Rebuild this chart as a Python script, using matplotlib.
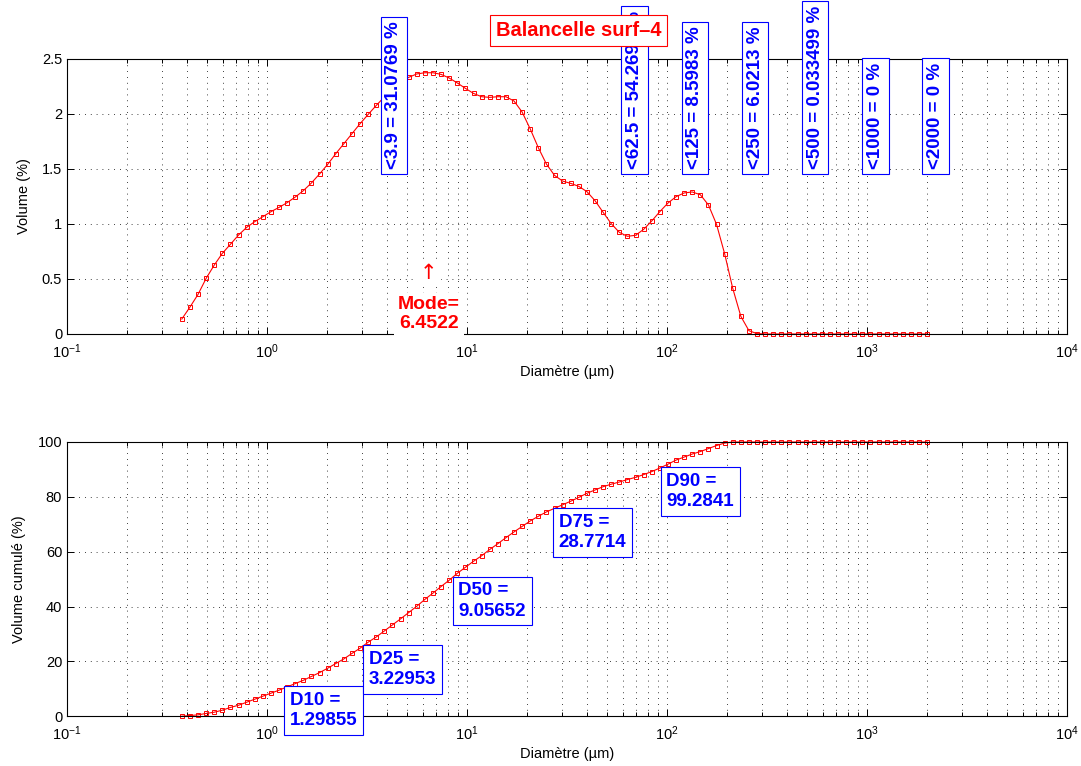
import numpy as np
import matplotlib
matplotlib.use("Agg")
import matplotlib.pyplot as plt

plt.rcParams['font.family'] = ['Liberation Sans', 'DejaVu Sans']
plt.rcParams['mathtext.fontset'] = 'custom'
plt.rcParams['mathtext.rm'] = 'Liberation Sans'

# Classes granulométriques (µm)
diametre = [0.375, 0.412, 0.452, 0.496, 0.545, 0.598, 0.656, 0.721, 0.791, 0.868,
            0.953, 1.047, 1.149, 1.261, 1.385, 1.520, 1.668, 1.832, 2.011, 2.207,
            2.423, 2.660, 2.920, 3.205, 3.519, 3.863, 4.240, 4.655, 5.110, 5.610,
            6.158, 6.760, 7.421, 8.147, 8.943, 9.817, 10.78, 11.83, 12.99, 14.26,
            15.65, 17.18, 18.86, 20.71, 22.73, 24.95, 27.39, 30.07, 33.01, 36.24,
            39.78, 43.67, 47.94, 52.62, 57.77, 63.41, 69.61, 76.42, 83.89, 92.09,
            101.1, 111.0, 121.8, 133.7, 146.8, 161.2, 176.9, 194.2, 213.2, 234.1,
            256.9, 282.1, 309.6, 339.9, 373.1, 409.6, 449.7, 493.6, 541.9, 594.9,
            653.0, 716.9, 786.9, 863.9, 948.3, 1041, 1143, 1255, 1377, 1512,
            1660, 1822, 2000]

# Volume (%) par classe
volume = [0.136, 0.245, 0.36, 0.505, 0.627, 0.733, 0.815, 0.90, 0.969, 1.021,
          1.066, 1.112, 1.151, 1.194, 1.245, 1.303, 1.373, 1.455, 1.542, 1.639,
          1.73, 1.821, 1.912, 1.996, 2.078, 2.155, 2.22, 2.294, 2.333, 2.364,
          2.375, 2.375, 2.36, 2.327, 2.282, 2.233, 2.187, 2.157, 2.151, 2.157,
          2.157, 2.118, 2.018, 1.864, 1.694, 1.545, 1.442, 1.39, 1.369, 1.342,
          1.294, 1.212, 1.106, 1.003, 0.924, 0.888, 0.897, 0.951, 1.027, 1.112,
          1.19, 1.248, 1.282, 1.291, 1.266, 1.173, 0.997, 0.73, 0.415, 0.16,
          0.03, 0.003, 0, 0, 0, 0, 0, 0, 0, 0,
          0, 0, 0, 0, 0, 0, 0, 0, 0, 0,
          0, 0, 0]

# Volume cumulé (%)
cumul = [0, 0.24, 0.5, 1.0, 1.46, 2.2, 3.2, 4.0, 5.1, 6.2,
         7.3, 8.4, 9.5, 10.7, 11.9, 13.1, 14.5, 15.9, 17.5, 19.2,
         20.9, 22.9, 24.8, 27.0, 28.9, 31.1, 33.3, 35.5, 37.8, 40.1,
         42.6, 44.9, 47.3, 49.6, 52.1, 54.3, 56.5, 58.5, 60.8, 62.9,
         65.1, 67.2, 69.2, 71.2, 72.9, 74.5, 75.8, 77.1, 78.4, 79.8,
         81.3, 82.5, 83.7, 84.6, 85.4, 86.3, 87.1, 88.1, 89.2, 90.5,
         91.9, 93.4, 94.5, 95.6, 96.5, 97.6, 98.7, 99.6, 100, 100,
         100, 100, 100, 100, 100, 100, 100, 100, 100, 100,
         100, 100, 100, 100, 100, 100, 100, 100, 100, 100,
         100, 100, 100]

# Pourcentages par seuil
seuils = [3.9, 62.5, 125, 250, 500, 1000, 2000]
seuils_pct = ['31.0769', '54.2691', '8.5983', '6.0213', '0.033499', '0', '0']

# Percentiles
d_noms = ['D10', 'D25', 'D50', 'D75', 'D90']
d_pct = [10, 25, 50, 75, 90]
d_val = [1.29855, 3.22953, 9.05652, 28.7714, 99.2841]

mode = 6.4522
titre = 'Balancelle surf–4'


def style_axes(ax):
    ax.set_xscale('log')
    ax.set_xlim(1e-1, 1e4)
    ax.tick_params(which='both', direction='in', top=True, right=True,
                   labelsize=10.5, width=0.7)
    ax.tick_params(axis='x', which='both', pad=6)
    ax.tick_params(which='major', length=5)
    ax.tick_params(which='minor', length=3)
    ax.grid(True, which='major', axis='both', color='k', lw=0.6, ls=(0, (1, 6)))
    ax.grid(True, which='minor', axis='x', color='k', lw=0.6, ls=(0, (1, 6)))
    for s in ax.spines.values():
        s.set_linewidth(0.8)
    ax.set_xlabel('Diamètre (µm)', fontsize=10.5, labelpad=3)


fig = plt.figure(figsize=(10.81, 7.66), dpi=100)
ax1 = fig.add_axes([0.062, 0.564, 0.925, 0.359])
ax2 = fig.add_axes([0.062, 0.065, 0.925, 0.358])

# --- courbe volume ---
ax1.plot(diametre, volume, '-s', color='r', lw=0.8, markersize=2.3,
         mfc='none', mew=0.7, clip_on=False)
style_axes(ax1)
ax1.set_ylim(0, 2.5)
ax1.set_yticks([0, 0.5, 1, 1.5, 2, 2.5])
ax1.set_yticklabels(['0', '0.5', '1', '1.5', '2', '2.5'])
ax1.set_ylabel('Volume (%)', fontsize=10.5, labelpad=8)

for s, p in zip(seuils, seuils_pct):
    ax1.text(s, 1.5, '<%s = %s %%' % (s if s != int(s) else int(s), p),
             rotation=90, ha='left', va='bottom', color='b', fontsize=13.5,
             fontweight='bold', clip_on=False, zorder=5,
             bbox=dict(boxstyle='square,pad=0.25', fc='white', ec='b', lw=0.8))

ax1.text(mode, 0.02, 'Mode=\n6.4522', ha='center', va='bottom',
         color='r', fontsize=14, fontweight='bold', linespacing=1.1, zorder=5,
         bbox=dict(boxstyle='square,pad=0.2', fc='white', ec='none'))
ax1.text(mode, 0.55, '↑', ha='center', va='center', color='r',
         fontsize=15, family='DejaVu Sans', zorder=5,
         bbox=dict(boxstyle='square,pad=0.15', fc='white', ec='none'))

fig.text(0.535, 0.96, titre, ha='center', va='center', color='r',
         fontsize=14.5, fontweight='bold',
         bbox=dict(boxstyle='square,pad=0.3', fc='white', ec='r', lw=0.8))

# --- courbe cumulée ---
ax2.plot(diametre, cumul, '-s', color='r', lw=0.8, markersize=2.3,
         mfc='none', mew=0.7, clip_on=False)
style_axes(ax2)
ax2.set_ylim(0, 100)
ax2.set_yticks([0, 20, 40, 60, 80, 100])
ax2.set_ylabel('Volume cumulé (%)', fontsize=10.5, labelpad=8)

for nom, p, v in zip(d_noms, d_pct, d_val):
    ax2.text(v, p - 1.2, '%s =\n%s' % (nom, v), ha='left', va='top', color='b',
             fontsize=13.5, fontweight='bold', clip_on=False, zorder=5,
             linespacing=1.25,
             bbox=dict(boxstyle='square,pad=0.3', fc='white', ec='b', lw=0.8))

fig.savefig('out.png', dpi=100)
